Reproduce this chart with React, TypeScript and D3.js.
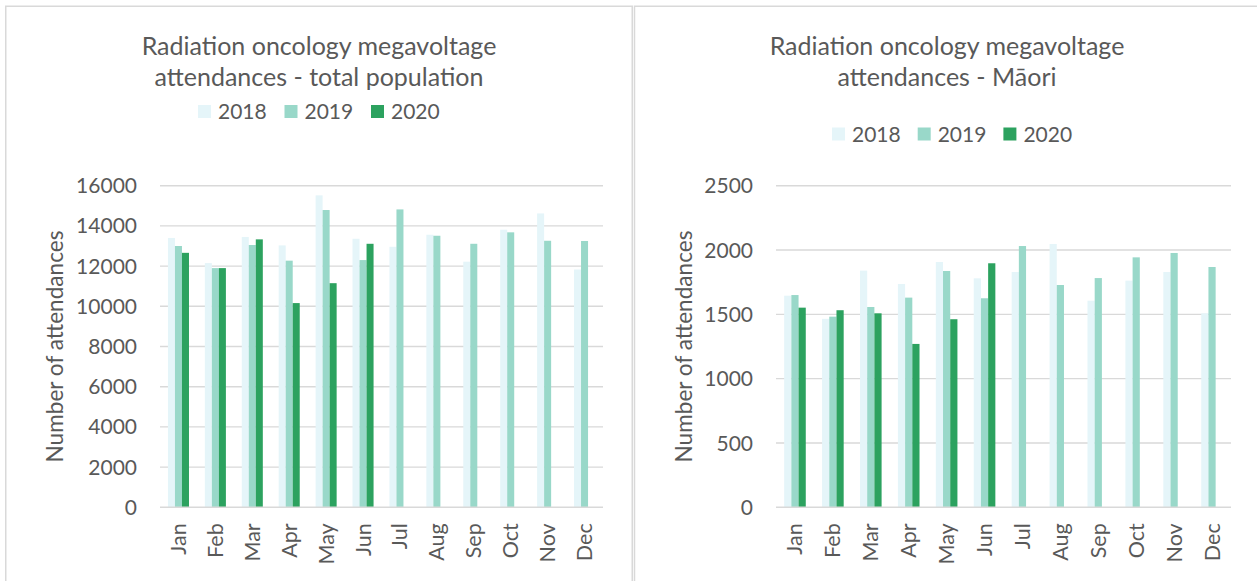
import React from 'react';
import * as d3 from 'd3';

const months = ['Jan', 'Feb', 'Mar', 'Apr', 'May', 'Jun', 'Jul', 'Aug', 'Sep', 'Oct', 'Nov', 'Dec'];
const years = ['2018', '2019', '2020'];
const colors = ['#e5f5f9', '#99d8c9', '#2ca25f'];

const total2018 = [13400, 12150, 13450, 13030, 15520, 13360, 12960, 13560, 12220, 13810, 14620, 11830];
const total2019 = [13000, 11900, 13050, 12270, 14790, 12300, 14820, 13510, 13110, 13680, 13260, 13250];
const total2020 = [12660, 11900, 13330, 10160, 11150, 13110, null, null, null, null, null, null];

const maori2018 = [1645, 1465, 1840, 1736, 1907, 1780, 1829, 2047, 1606, 1762, 1829, 1508];
const maori2019 = [1650, 1482, 1557, 1630, 1837, 1625, 2031, 1728, 1782, 1943, 1977, 1868];
const maori2020 = [1552, 1532, 1508, 1270, 1462, 1897, null, null, null, null, null, null];

const totalTitle = ['Radiation oncology megavoltage', 'attendances - total population'];
const maoriTitle = ['Radiation oncology megavoltage', 'attendances - Māori'];
const yAxisTitle = 'Number of attendances';

const TEXT = '#595959';
const GRID = '#d9d9d9';
const FONT = "Lato, 'Open Sans', sans-serif";

type Layout = {
  panelX: number;
  panelW: number;
  plotLeft: number;
  plotRight: number;
  plotTop: number;
  plotBottom: number;
  titleX: number;
  titleY1: number;
  titleY2: number;
  legendX: number;
  legendY: number;
  legendStep: number;
  tickX: number;
  yTitleX: number;
};

function Chart({ title, series, yMax, yStep, layout }: {
  title: string[];
  series: (number | null)[][];
  yMax: number;
  yStep: number;
  layout: Layout;
}) {
  const L = layout;
  const y = d3.scaleLinear().domain([0, yMax]).range([L.plotBottom, L.plotTop]);
  const x = d3.scaleBand<string>().domain(months).range([L.plotLeft, L.plotRight]).paddingInner(0.43).paddingOuter(0.215);
  const xi = d3.scaleBand<string>().domain(years).range([0, x.bandwidth()]);
  const ticks = d3.range(0, yMax + 1, yStep);
  const yMid = (L.plotTop + L.plotBottom) / 2;

  return (
    <g>
      <rect x={L.panelX} y={6.25} width={L.panelW} height={620} fill="#fff" stroke={GRID} strokeWidth={1.5} />
      <text x={L.titleX} y={L.titleY1} textAnchor="middle" fontSize={25} fill={TEXT}>{title[0]}</text>
      <text x={L.titleX} y={L.titleY2} textAnchor="middle" fontSize={25} fill={TEXT}>{title[1]}</text>
      {years.map((yr, i) => (
        <g key={yr}>
          <rect x={L.legendX + i * L.legendStep} y={L.legendY - 6.5} width={13} height={13} fill={colors[i]} />
          <text x={L.legendX + i * L.legendStep + 20} y={L.legendY} dy="0.36em" fontSize={21} fill={TEXT}>{yr}</text>
        </g>
      ))}
      {ticks.filter(t => t > 0).map(t => (
        <line key={t} x1={L.plotLeft} x2={L.plotRight} y1={y(t)} y2={y(t)} stroke={GRID} strokeWidth={1.4} />
      ))}
      {ticks.map(t => (
        <text key={'t' + t} x={L.tickX} y={y(t)} dy="0.36em" textAnchor="end" fontSize={21} fill={TEXT}>{t}</text>
      ))}
      {series.map((vals, si) => (
        <g key={si}>
          {vals.map((v, mi) => v == null ? null : (
            <rect key={mi}
              x={(x(months[mi]) as number) + (xi(years[si]) as number)}
              y={y(v)}
              width={xi.bandwidth()}
              height={L.plotBottom - y(v)}
              fill={colors[si]} />
          ))}
        </g>
      ))}
      <line x1={L.plotLeft} x2={L.plotRight} y1={y(0)} y2={y(0)} stroke={GRID} strokeWidth={1.4} />
      {months.map(m => {
        const cx = (x(m) as number) + x.bandwidth() / 2;
        return (
          <text key={m} transform={`translate(${cx},${L.plotBottom + 16}) rotate(-90)`} dy="0.35em" textAnchor="end" fontSize={21.5} fill={TEXT}>{m}</text>
        );
      })}
      <text transform={`translate(${L.yTitleX},${yMid}) rotate(-90)`} textAnchor="middle" fontSize={22.6} fill={TEXT}>{yAxisTitle}</text>
    </g>
  );
}

const leftLayout: Layout = {
  panelX: 5.75, panelW: 626.5,
  plotLeft: 160, plotRight: 603, plotTop: 185.7, plotBottom: 507.3,
  titleX: 319, titleY1: 55, titleY2: 86,
  legendX: 198, legendY: 111.5, legendStep: 86.5,
  tickX: 137, yTitleX: 63,
};

const rightLayout: Layout = {
  panelX: 634.5, panelW: 640,
  plotLeft: 776, plotRight: 1231, plotTop: 185.7, plotBottom: 507.3,
  titleX: 947, titleY1: 55, titleY2: 86,
  legendX: 832, legendY: 134, legendStep: 85.7,
  tickX: 753, yTitleX: 692,
};

export default function App() {
  return (
    <svg width={1257} height={581} style={{ position: 'absolute', left: 0, top: 0 }} fontFamily={FONT}>
      <rect width={1257} height={581} fill="#fff" />
      <Chart title={totalTitle} series={[total2018, total2019, total2020]} yMax={16000} yStep={2000} layout={leftLayout} />
      <Chart title={maoriTitle} series={[maori2018, maori2019, maori2020]} yMax={2500} yStep={500} layout={rightLayout} />
    </svg>
  );
}
